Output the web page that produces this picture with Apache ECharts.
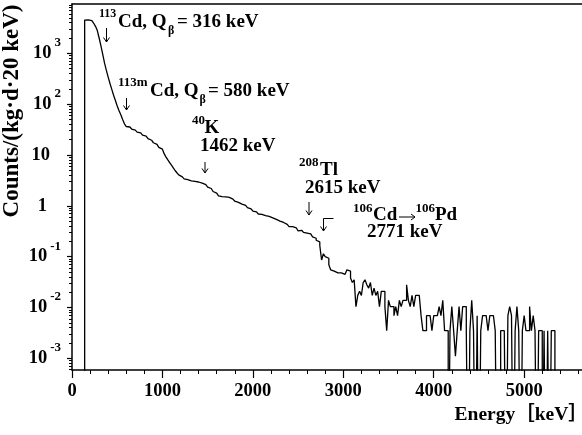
<!DOCTYPE html>
<html><head><meta charset="utf-8">
<script src="https://cdn.jsdelivr.net/npm/echarts@6.0.0/dist/echarts.min.js"></script>
<style>html,body{margin:0;padding:0;background:#fff;}#chart{width:582px;height:435px;}</style>
</head><body><div id="chart"></div>
<script>
// ---------------- data ----------------
const binStartKeV = 140;          // first histogram bin edge
const binWidthKeV = 20;           // histogram bin width
// counts/(kg·d·20 keV), bins 140 ... 580 keV
const rateLow = [4500,4550,4500,4400,4200,3900,3400,2800,2000,1400,950,640,460,340,255,195,150,118,92,74,62,50,41];
// bins 600 ... 2740 keV
const rateMid = [36.3,35.5,33.9,32.4,30.9, 29.5,28.2,27.2,26.0,24.5, 23.4,22.1,20.9,19.5,18.4, 17.4,16.2,15.1,14.1,13.0,
  12.0,10.5,9.1,8.0,7.1, 6.3,5.6,4.95,4.47,4.07, 3.72,3.51,3.39,3.27,3.16, 3.09,3.05,3.02,2.99,2.94,
  2.88,2.79,2.69,2.60,2.48, 2.34,2.19,2.04,1.91,1.78, 1.66,1.57,1.51,1.50,1.50, 1.48,1.46,1.41,1.35,1.29,
  1.23,1.17,1.12,1.08,1.05, 1.02,0.98,0.92,0.87,0.83, 0.79,0.76,0.72,0.69,0.68, 0.66,0.64,0.67,0.62,0.60,
  0.58,0.56,0.54,0.52,0.50, 0.49,0.47,0.45,0.43,0.41, 0.39,0.39,0.36,0.37,0.34, 0.32,0.33,0.31,0.30,0.29,
  0.28,0.28,0.26,0.245,0.23, 0.21,0.195,0.166];
// bins 2760 ... 5400 keV (0 = empty bin)
const rateTail = [0.086,0.114,0.100,0.093,0.069, 0.055,0.052,0.052,0.048,0.052, 0.048,0.052,0.045,0.048,0.055,
  0.052,0.038,0.031,0.035,0.0104, 0.0173,0.0208,0.0173,0.031,0.035, 0.028,0.024,0.031,0.0173,0.024,
  0.0173,0.0208,0.0104,0.0208,0.0208, 0.0104,0.0035,0.0138,0.0104,0.0104, 0.0069,0.0104,0.0069,0.0138,0.0104,
  0.0138,0.0138,0.028,0.0138,0.0104, 0.0173,0.0104,0.0173,0.0173,0.0173, 0.0069,0.0035,0.0035,0.0069,0.0069,
  0.0069,0.0035,0.0069,0.0069,0.0069, 0.0104,0.0069,0.0138,0.0035,0.0035, 0,0.0035,0.0104,0.0035,0.0011,
  0.0035,0.0104,0.0035,0.0104,0.0104, 0.0035,0,0.0035,0.0138,0.0035, 0,0.0069,0,0.0035,0.0069,
  0.0069,0.0069,0.0035,0.0069,0.0069, 0.0069,0.0035,0,0,0.0035, 0.0035,0.0035,0,0.0069,0.0104,
  0.0069,0,0.0035,0.0104,0.0035, 0,0.0035,0.0069,0.0035,0.0035, 0.0104,0.0035,0.0069,0.0035,0,
  0.0035,0.0035,0,0.0035,0, 0.0035,0,0.0035,0.0035,0, 0,0,0];
// y tick labels  (10^n)
const yTickValues = [0.001, 0.01, 0.1, 1, 10, 100, 1000];
const yTickBase   = ['10', '10', '10', '1', '10', '10', '10'];
const yTickExp    = ['-3', '-2', '-1', '', '', '2', '3'];
// x tick labels
const xTickValues = [0, 1000, 2000, 3000, 4000, 5000];

// ---------------- build ----------------
const SERIF = '"Liberation Serif", "Times New Roman", serif';
const Y_MIN = 5.89e-4, Y_MAX = 9333;
const ZERO_FLOOR = 1e-6;   // empty bins drawn below the log-axis floor (clipped)

const rates = rateLow.concat(rateMid, rateTail);
const histData = [[binStartKeV, ZERO_FLOOR]];
rates.forEach((v, i) => histData.push([binStartKeV + i * binWidthKeV, v > 0 ? v : ZERO_FLOOR]));
histData.push([binStartKeV + rates.length * binWidthKeV, ZERO_FLOOR]);

const yMinorTicks = [];
for (let e = -4; e <= 3; e++) for (let m = 2; m <= 9; m++) {
  const v = m * Math.pow(10, e);
  if (v > Y_MIN && v < Y_MAX) yMinorTicks.push(v);
}

const bold = (size) => ({fontFamily: SERIF, fontWeight: 'bold', fontSize: size, color: '#000'});

function txt(str, x, y, size, align) {
  return {type: 'text', x: x, y: y, silent: true, z: 10,
    style: {text: str, fill: '#000', font: 'bold ' + size + 'px ' + SERIF,
      align: align || 'left', verticalAlign: 'middle', textAlign: align || 'left', textVerticalAlign: 'middle'}};
}
function line(points) {
  return {type: 'polyline', silent: true, z: 10, shape: {points: points}, style: {stroke: '#000', lineWidth: 1, fill: null}};
}
function downArrow(x, y0, y1) {
  return [line([[x, y0], [x, y1]]), line([[x - 3, y1 - 4.5], [x, y1], [x + 3, y1 - 4.5]])];
}

const annotations = [].concat(
  [txt('113', 99, 14, 12), txt('Cd, Q', 118, 22.5, 19), txt('β', 168, 31, 12), txt('= 316 keV', 177, 22.5, 19)],
  downArrow(106.5, 28, 42),
  [txt('113m', 118, 83, 13), txt('Cd, Q', 150, 91, 19), txt('β', 199.5, 100, 12), txt('= 580 keV', 208, 91, 19)],
  downArrow(126.5, 98, 110),
  [txt('40', 192, 121, 13), txt('K', 204.5, 128.5, 19), txt('1462 keV', 200, 146.5, 19)],
  downArrow(205, 162, 173),
  [txt('208', 299, 163, 13), txt('Tl', 320, 170, 19), txt('2615 keV', 305, 188.5, 19)],
  downArrow(309, 202, 215),
  [txt('106', 353, 209, 13), txt('Cd', 373, 215.5, 19),
   line([[399, 217], [415, 217]]), line([[411, 214], [415, 217], [411, 220]]),
   txt('106', 415.5, 209, 13), txt('Pd', 435, 215.5, 19), txt('2771 keV', 367, 232.5, 19)],
  [line([[333.5, 218.5], [323.5, 218.5], [323.5, 231]]), line([[320.5, 226.5], [323.5, 231], [326.5, 226.5]])]
);

const chart = echarts.init(document.getElementById('chart'), null, {renderer: 'canvas'});
chart.setOption({
  animation: false,
  backgroundColor: '#fff',
  grid: {left: 72, top: 4, width: 542.6, height: 366, containLabel: false, outerBoundsMode: 'none'},
  xAxis: [{
    type: 'value', min: 0, max: 6000, interval: 1000,
    axisLine: {show: true, onZero: false, lineStyle: {color: '#000', width: 1.5}},
    axisTick: {show: true, length: 8, lineStyle: {color: '#000', width: 1.2}},
    minorTick: {show: true, splitNumber: 5, length: 4, lineStyle: {color: '#000', width: 1}},
    axisLabel: Object.assign(bold(18.5), {margin: 12, customValues: xTickValues, formatter: v => String(v)}),
    splitLine: {show: false},
    name: 'Energy［keV］', nameLocation: 'end', nameGap: -160, nameMoveOverlap: false,
    nameTextStyle: {fontFamily: '"Liberation Serif", "Noto Sans CJK JP", serif', fontWeight: 'bold', fontSize: 19.5,
      color: '#000', align: 'left', verticalAlign: 'top', padding: [35, 0, 0, 0]}
  }, {
    type: 'value', position: 'top', min: 0, max: 6000,
    axisLine: {show: true, onZero: false, lineStyle: {color: '#000', width: 1.5}},
    axisTick: {show: false}, axisLabel: {show: false}, splitLine: {show: false}
  }],
  yAxis: [{
    type: 'log', logBase: 10, min: Y_MIN, max: Y_MAX,
    axisLine: {show: true, onZero: false, lineStyle: {color: '#000', width: 1.5}},
    axisTick: {show: true, length: 5, customValues: yTickValues, lineStyle: {color: '#000', width: 1.2}},
    axisLabel: {
      margin: 11, customValues: yTickValues,
      formatter: function (val) {
        const i = yTickValues.findIndex(t => Math.abs(Math.log10(t) - Math.log10(val)) < 1e-6);
        if (i < 0) return '';
        if (yTickExp[i]) return '{b|' + yTickBase[i] + '}{e|' + yTickExp[i] + '}';
        return yTickBase[i] === '1' ? '{b1|1}' : '{b10|10}';
      },
      rich: {
        b: Object.assign(bold(18.5), {lineHeight: 18}),
        e: Object.assign(bold(13), {lineHeight: 13, padding: [0, 0, 21, 3]}),
        b10: Object.assign(bold(18.5), {lineHeight: 18, padding: [0, 11, 0, 0]}),
        b1: Object.assign(bold(18.5), {lineHeight: 18, padding: [0, 14, 0, 0]})
      }
    },
    splitLine: {show: false},
    name: 'Counts/(kg·d·20 keV)', nameLocation: 'middle', nameRotate: 90, nameGap: 48, nameMoveOverlap: false,
    nameTextStyle: Object.assign(bold(23), {padding: [0, 0, 0, 152]})
  }, {
    type: 'log', logBase: 10, min: Y_MIN, max: Y_MAX, position: 'left', offset: 0,
    axisLine: {show: false},
    axisTick: {show: true, length: 3, customValues: yMinorTicks, lineStyle: {color: '#000', width: 1}},
    axisLabel: {show: false}, splitLine: {show: false}
  }],
  series: [{
    type: 'line', xAxisIndex: 0, yAxisIndex: 0, data: histData, step: 'end',
    showSymbol: false, symbol: 'none', clip: true, z: 3,
    lineStyle: {color: '#000', width: 1.3}
  }],
  graphic: annotations
});
</script></body></html>
